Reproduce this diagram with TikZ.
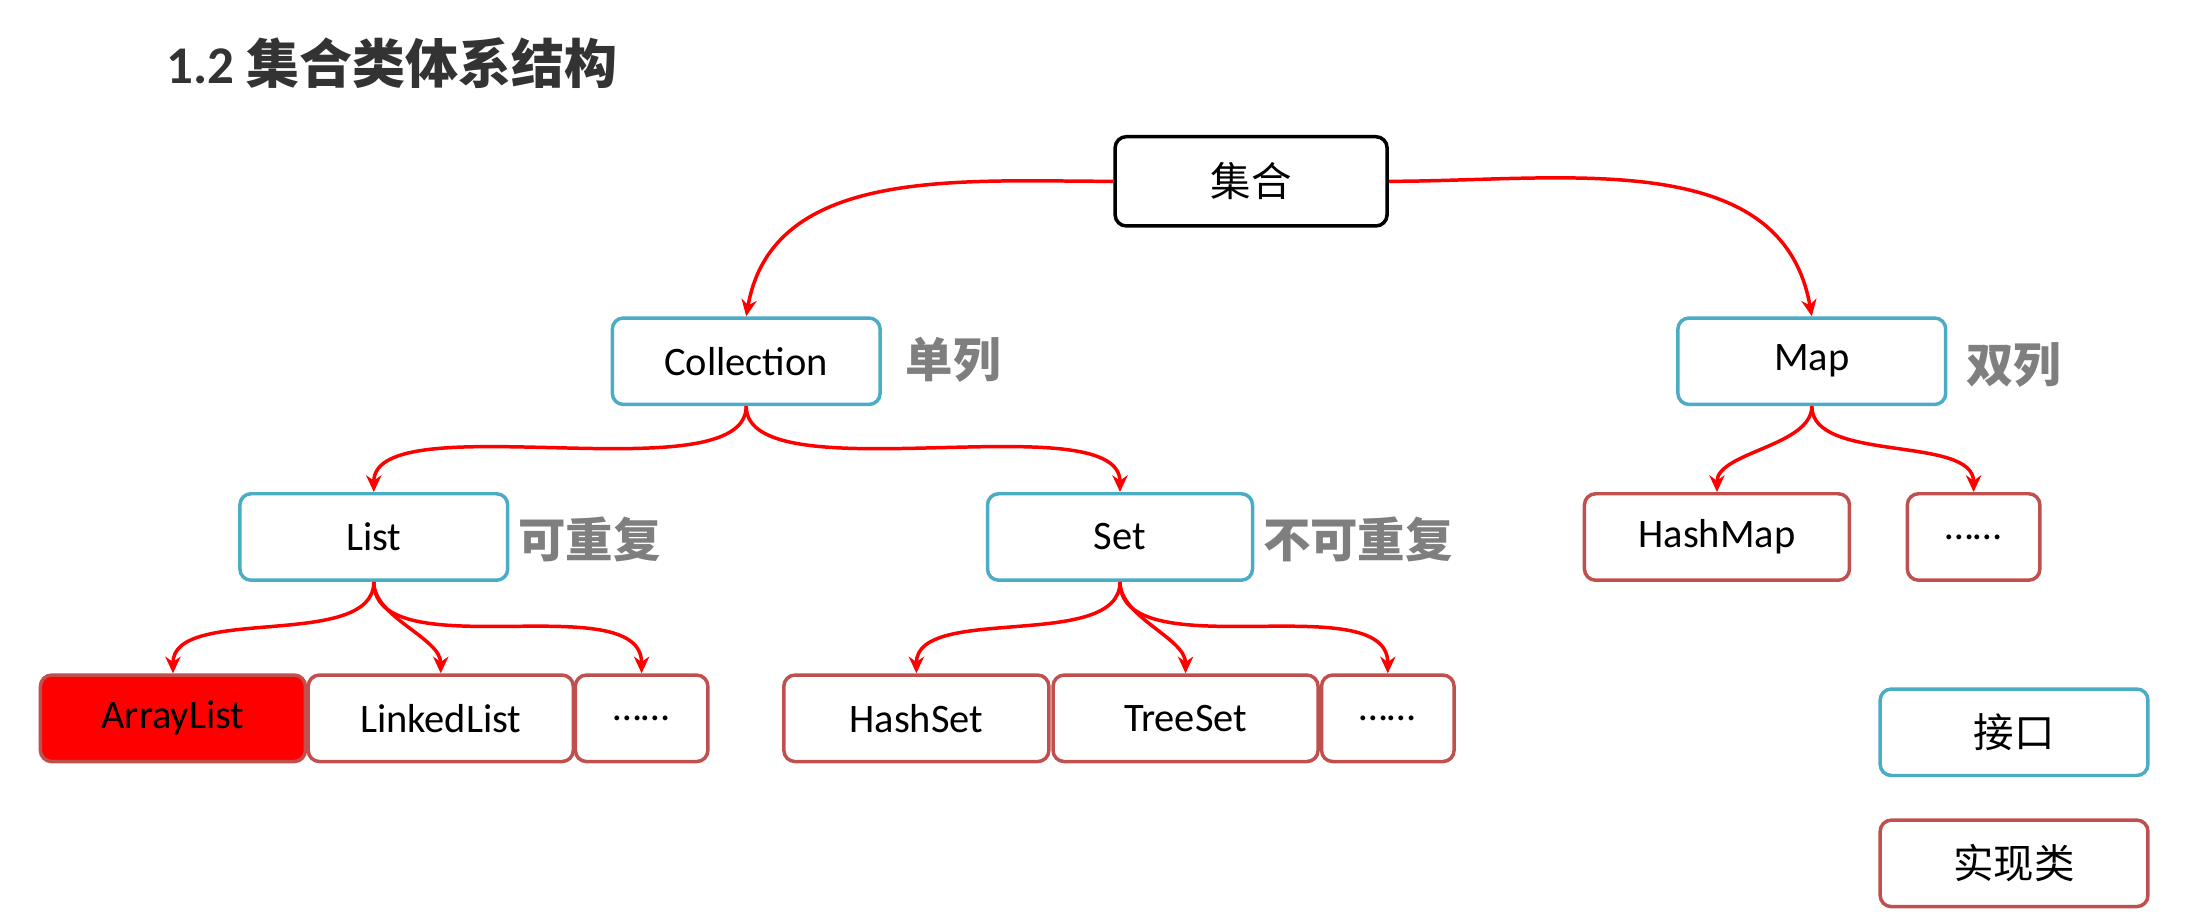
\documentclass[tikz,border=0pt]{standalone}
\usepackage{fontspec}
\setmainfont{Carlito}
\newfontfamily\cjk{Noto Sans CJK SC}
\usetikzlibrary{arrows.meta}
\definecolor{ifc}{HTML}{4BACC6}
\definecolor{impl}{HTML}{C0504D}
\definecolor{lab}{HTML}{7F7F7F}
\tikzset{
  box/.style={draw, rounded corners=8pt, line width=2.5pt, minimum height=62pt, font=\fontsize{29}{32}\selectfont},
  ibox/.style={box, draw=ifc, minimum width=192pt},
  cbox/.style={box, draw=impl, minimum width=190pt},
  sbox/.style={box, draw=impl, minimum width=95pt},
  lbl/.style={font=\cjk\bfseries\fontsize{34}{38}\selectfont, text=lab, anchor=west},
  arr/.style={draw=red, line width=2.5pt, -{Stealth[length=12pt,width=11pt]}}
}
\begin{document}
\begin{tikzpicture}[x=1pt,y=-1pt]
\useasboundingbox (0,0) rectangle (1568,660);
\node[anchor=west, font=\bfseries\fontsize{38}{42}\selectfont, text=black!80] (title) at (116,45) {1.2 {\cjk 集合类体系结构}};
\node[box, draw=black, minimum width=195pt, minimum height=64pt, font=\cjk\fontsize{29}{32}\selectfont] (root) at (897,130) {集合};
\node[ibox] (coll) at (535,259) {Collection};
\node[lbl] (l1) at (646,258) {单列};
\node[ibox] (map) at (1299,259) {Map};
\node[lbl] (l2) at (1406,262) {双列};
\node[ibox] (list) at (268,385) {List};
\node[lbl] (l3) at (368,387) {可重复};
\node[ibox, minimum width=190pt] (set) at (803,385) {Set};
\node[lbl] (l4) at (902,387) {不可重复};
\node[cbox] (hm) at (1231,385) {HashMap};
\node[sbox] (md) at (1415,385) {……};
\node[cbox, fill=red] (al) at (124,515) {ArrayList};
\node[cbox] (ll) at (316,515) {LinkedList};
\node[sbox] (ld) at (460,515) {……};
\node[cbox] (hs) at (657,515) {HashSet};
\node[cbox] (ts) at (850,515) {TreeSet};
\node[sbox] (sd) at (995,515) {……};
\node[ibox, font=\cjk\fontsize{29}{32}\selectfont] (k1) at (1444,525) {接口};
\node[cbox, minimum width=192pt, font=\cjk\fontsize{29}{32}\selectfont] (k2) at (1444,619) {实现类};
\draw[arr] (root.west) to[out=180,in=80] (coll.north);
\draw[arr] (root.east) to[out=0,in=100] (map.north);
\draw[arr] (coll.south) to[out=270,in=90,looseness=0.6] (list.north);
\draw[arr] (coll.south) to[out=270,in=90,looseness=0.6] (set.north);
\draw[arr] (list.south) to[out=270,in=90,looseness=0.8] (al.north);
\draw[arr] (list.south) to[out=270,in=90,looseness=0.8] (ll.north);
\draw[arr] (list.south) to[out=270,in=90,looseness=0.8] (ld.north);
\draw[arr] (set.south) to[out=270,in=90,looseness=0.8] (hs.north);
\draw[arr] (set.south) to[out=270,in=90,looseness=0.8] (ts.north);
\draw[arr] (set.south) to[out=270,in=90,looseness=0.8] (sd.north);
\draw[arr] (map.south) to[out=270,in=90,looseness=0.8] (hm.north);
\draw[arr] (map.south) to[out=270,in=90,looseness=0.8] (md.north);
\end{tikzpicture}
\end{document}
